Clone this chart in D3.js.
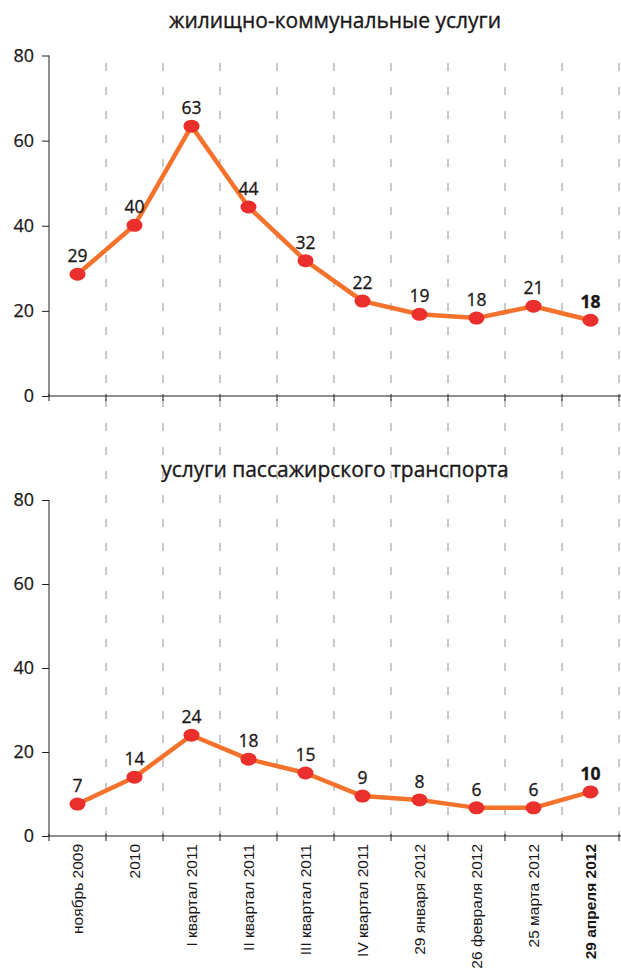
<!DOCTYPE html>
<html>
<head>
<meta charset="utf-8">
<script src="https://cdn.jsdelivr.net/npm/d3@7"></script>
<style>
  body { margin: 0; background: #fff; }
  svg text { fill: #1a1718; }
</style>
</head>
<body>
<svg id="chart" width="621" height="971"></svg>
<script>
// categories on the x axis (shared by both panels)
const categories = ["ноябрь 2009", "2010", "I квартал 2011", "II квартал 2011", "III квартал 2011",
    "IV квартал 2011", "29 января 2012", "26 февраля 2012", "25 марта 2012", "29 апреля 2012"];

// housing & utilities
const housingValues = [28.6, 40.1, 63.4, 44.4, 31.8, 22.3, 19.2, 18.3, 21.1, 17.8];
const housingLabels = ["29", "40", "63", "44", "32", "22", "19", "18", "21", "18"];

// passenger transport
const transportValues = [7.6, 14.0, 24.0, 18.3, 15.0, 9.5, 8.6, 6.7, 6.7, 10.5];
const transportLabels = ["7", "14", "24", "18", "15", "9", "8", "6", "6", "10"];

const yTicks = [0, 20, 40, 60, 80];

const svg = d3.select("#chart");
const labelFont = "'Open Sans', sans-serif";

const x = d3.scaleBand().domain(categories).range([49, 619]);
const boundaries = categories.map(c => x(c)).concat([x.range()[1]]);

// dashed vertical grid, runs through both panels
svg.append("g")
    .selectAll("line")
    .data(boundaries.slice(1))
    .enter().append("line")
    .attr("x1", d => d).attr("x2", d => d)
    .attr("y1", 63).attr("y2", 836)
    .attr("stroke", "#b3b3b3")
    .attr("stroke-width", 1.4)
    .attr("stroke-dasharray", "8,16");

const panels = [
    { title: "жилищно-коммунальные услуги", titleY: 28, top: 55.5, bottom: 396, values: housingValues, labels: housingLabels },
    { title: "услуги пассажирского транспорта", titleY: 477, top: 500, bottom: 836, values: transportValues, labels: transportLabels }
];

panels.forEach(p => {
    const y = d3.scaleLinear().domain([0, 80]).range([p.bottom, p.top]);
    const g = svg.append("g");

    // title
    g.append("text")
        .attr("x", 335)
        .attr("y", p.titleY)
        .attr("text-anchor", "middle")
        .style("font-family", labelFont)
        .style("font-size", "21px")
        .style("stroke", "#1a1718")
        .style("stroke-width", 0.35)
        .text(p.title);

    // y axis
    const yAxis = d3.axisLeft(y).tickValues(yTicks).tickSize(7).tickPadding(8);
    const yg = g.append("g")
        .attr("transform", "translate(49,0)")
        .call(yAxis);
    yg.select(".domain").attr("d", "M0," + p.top + "V" + p.bottom).attr("stroke", "#231f20");
    yg.selectAll(".tick line").attr("stroke", "#231f20");
    yg.selectAll(".tick text")
        .style("font-family", labelFont)
        .style("font-size", "18px")
        .style("stroke", "#1a1718")
        .style("stroke-width", 0.25)
        .attr("fill", "#1a1718");

    // x axis line and boundary ticks
    g.append("line")
        .attr("x1", 49).attr("x2", 621)
        .attr("y1", p.bottom).attr("y2", p.bottom)
        .attr("stroke", "#231f20");
    g.append("g")
        .selectAll("line")
        .data(boundaries)
        .enter().append("line")
        .attr("x1", d => d).attr("x2", d => d)
        .attr("y1", p.bottom - 2).attr("y2", p.bottom + 5)
        .attr("stroke", "#231f20");

    // series line
    const line = d3.line()
        .x((d, i) => x(categories[i]) + x.bandwidth() / 2)
        .y(d => y(d));
    g.append("path")
        .datum(p.values)
        .attr("d", line)
        .attr("fill", "none")
        .attr("stroke", "#f4722b")
        .attr("stroke-width", 4.5)
        .attr("stroke-linejoin", "round");

    // points
    g.selectAll(".pt")
        .data(p.values)
        .enter().append("ellipse")
        .attr("class", "pt")
        .attr("cx", (d, i) => x(categories[i]) + x.bandwidth() / 2)
        .attr("cy", d => y(d))
        .attr("rx", 8)
        .attr("ry", 6.5)
        .attr("fill", "#ea2f2c");

    // value labels
    g.selectAll(".val")
        .data(p.labels)
        .enter().append("text")
        .attr("class", "val")
        .attr("x", (d, i) => x(categories[i]) + x.bandwidth() / 2)
        .attr("y", (d, i) => y(p.values[i]) - 12)
        .attr("text-anchor", "middle")
        .style("font-family", labelFont)
        .style("font-size", "17.5px")
        .style("font-weight", (d, i) => i === p.labels.length - 1 ? "bold" : "normal")
        .style("stroke", "#1a1718")
        .style("stroke-width", 0.3)
        .text(d => d);
});

// rotated category labels under the bottom panel
svg.append("g")
    .selectAll("text")
    .data(categories)
    .enter().append("text")
    .attr("transform", d => "translate(" + (x(d) + x.bandwidth() / 2) + ",844)rotate(-90)")
    .attr("dy", "0.35em")
    .attr("text-anchor", "end")
    .style("font-family", "'Liberation Sans', Arial, sans-serif")
    .style("font-size", "15.5px")
    .style("font-weight", (d, i) => i === categories.length - 1 ? "bold" : "normal")
    .text(d => d);
</script>
</body>
</html>
